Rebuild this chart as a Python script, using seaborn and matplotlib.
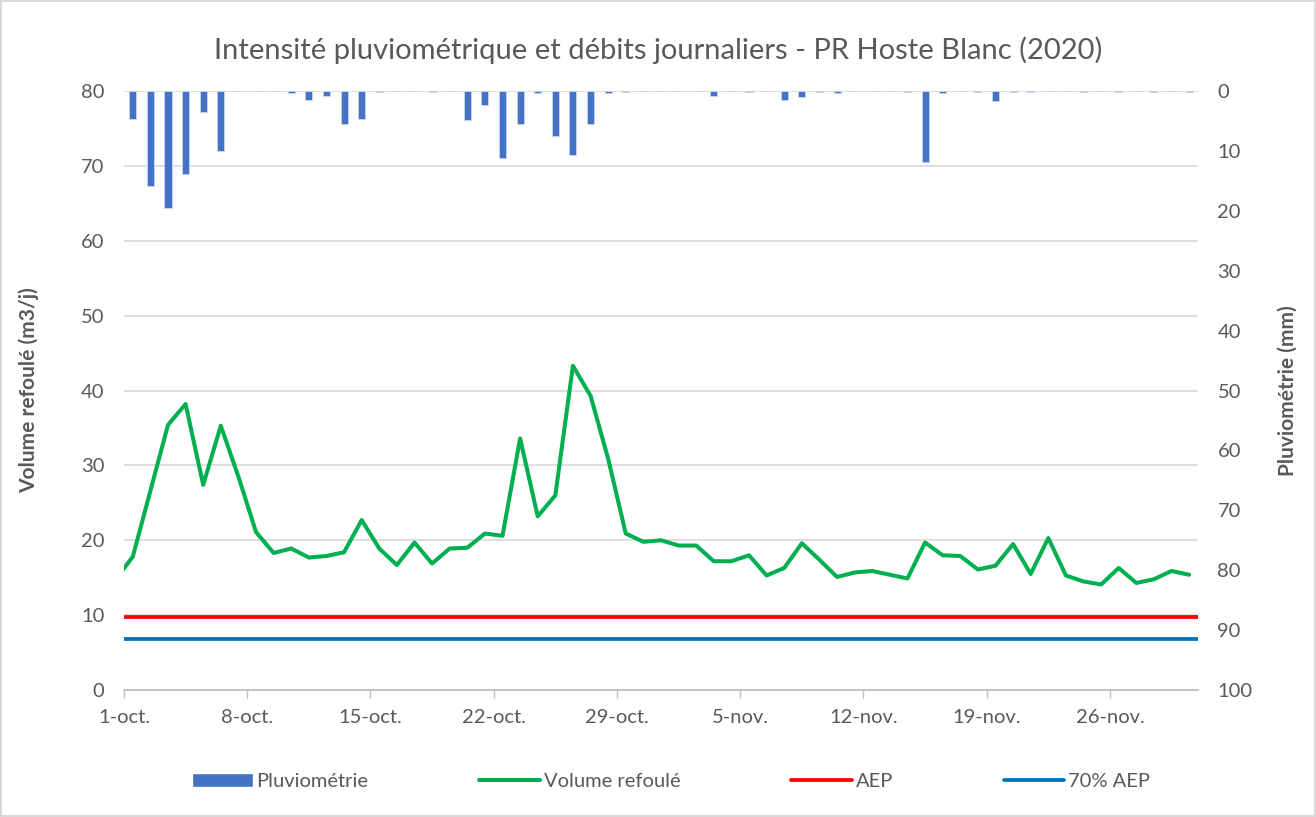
import pandas as pd
import matplotlib.pyplot as plt
import seaborn as sns
from matplotlib.patches import Patch
from matplotlib.lines import Line2D

sns.set_theme(style="white")
plt.rcParams['font.family'] = ['Lato', 'DejaVu Sans']

# données journalières (30 sept. -> 30 nov. 2020)
jours = pd.date_range('2020-09-30', '2020-11-30', freq='D')

volume = [14.7,
          17.8, 26.6, 35.4, 38.2, 27.4, 35.3, 28.5, 21.1, 18.3, 18.9,
          17.7, 17.9, 18.4, 22.7, 18.9, 16.7, 19.7, 16.9, 18.9, 19.0,
          20.9, 20.6, 33.6, 23.2, 26.0, 43.3, 39.3, 30.9, 20.9, 19.8,
          20.0, 19.3, 19.3, 17.2, 17.2, 18.0, 15.3, 16.3, 19.6, 17.4,
          15.1, 15.7, 15.9, 15.4, 14.9, 19.7, 18.0, 17.9, 16.1, 16.6,
          19.5, 15.5, 20.3, 15.3, 14.5, 14.1, 16.3, 14.3, 14.8, 15.9,
          15.4]

pluie = [0.0,
         4.7, 15.9, 19.5, 13.9, 3.5, 10.0, 0.0, 0.0, 0.0, 0.4,
         1.5, 0.8, 5.5, 4.7, 0.2, 0.0, 0.0, 0.2, 0.0, 4.8,
         2.4, 11.1, 5.5, 0.4, 7.5, 10.7, 5.5, 0.4, 0.2, 0.0,
         0.0, 0.0, 0.0, 0.8, 0.0, 0.2, 0.0, 1.5, 1.0, 0.2,
         0.4, 0.0, 0.0, 0.0, 0.2, 11.9, 0.4, 0.0, 0.2, 1.6,
         0.2, 0.2, 0.0, 0.0, 0.2, 0.0, 0.2, 0.0, 0.2, 0.0,
         0.2]

aep = 9.75
aep_70 = 0.7 * aep

tick_dates = pd.date_range('2020-10-01', '2020-11-26', freq='7D')
tick_labels = ['1-oct.', '8-oct.', '15-oct.', '22-oct.', '29-oct.',
               '5-nov.', '12-nov.', '19-nov.', '26-nov.']

gris = '#595959'
c_pluie = '#4472C4'
c_vol = '#00B050'
c_aep = '#FF0000'
c_70 = '#0070C0'

df = pd.DataFrame({'date': jours + pd.Timedelta(hours=12),
                   'volume': volume, 'pluie': pluie})

fig = plt.figure(figsize=(13.16, 8.17), dpi=100)
fig.patch.set_edgecolor('#d9d9d9')
fig.patch.set_linewidth(1.5)
ax = fig.add_axes([0.0942, 0.1554, 0.8161, 0.7332])

# courbes volume + seuils AEP
sns.lineplot(data=df, x='date', y='volume', ax=ax, color=c_vol, lw=2.9)
ax.axhline(aep, color=c_aep, lw=2.7)
ax.axhline(aep_70, color=c_70, lw=2.7)

ax.set_xlim(pd.Timestamp('2020-10-01'), pd.Timestamp('2020-12-01'))
ax.set_ylim(0, 80)
ax.set_yticks(range(0, 81, 10))
ax.yaxis.grid(True, color='#d9d9d9', lw=1.2)
ax.set_xticks(tick_dates)
ax.set_xticklabels(tick_labels)
ax.tick_params(axis='x', colors=gris, labelsize=14.5, length=6, width=1,
               direction='out', bottom=True, color='#bfbfbf', pad=8)
ax.tick_params(axis='y', colors=gris, labelsize=14.5, length=0, pad=14)
for s in ['top', 'left', 'right']:
    ax.spines[s].set_visible(False)
ax.spines['bottom'].set_color('#bfbfbf')
ax.set_xlabel('')
ax.set_ylabel('Volume refoulé (m3/j)', color=gris, fontsize=15,
              fontweight='bold', labelpad=30)

# pluviométrie sur axe secondaire inversé
ax2 = ax.twinx()
ax2.bar(df['date'], df['pluie'], width=0.4, color=c_pluie,
        edgecolor='#c9d6ee', linewidth=0.6)
ax2.set_ylim(100, 0)
ax2.set_yticks(range(0, 101, 10))
ax2.tick_params(axis='y', colors=gris, labelsize=14.5, length=0, pad=14)
for s in ['top', 'left', 'right', 'bottom']:
    ax2.spines[s].set_visible(False)
ax2.set_ylabel('Pluviométrie (mm)', color=gris, fontsize=15,
               fontweight='bold', labelpad=18)

fig.suptitle('Intensité pluviométrique et débits journaliers - PR Hoste Blanc (2020)',
             x=0.5, y=0.955, fontsize=21, color=gris, fontweight='normal')

handles = [Patch(facecolor=c_pluie),
           Line2D([], [], color=c_vol, lw=2.9),
           Line2D([], [], color=c_aep, lw=2.7),
           Line2D([], [], color=c_70, lw=2.7)]
labels = ['Pluviométrie', 'Volume refoulé', 'AEP', '70% AEP']
fig.legend(handles, labels, loc='center', bbox_to_anchor=(0.51, 0.043),
           ncol=4, frameon=False, fontsize=14.5, labelcolor=gris,
           handlelength=3.0, handletextpad=0.2, columnspacing=5.5)

fig.savefig('out.png', dpi=100)
